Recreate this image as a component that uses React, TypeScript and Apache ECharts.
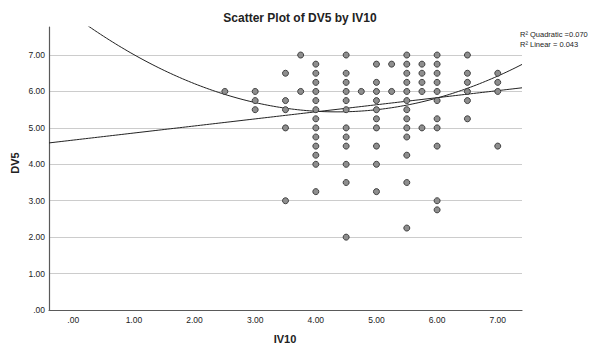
import React, { useEffect, useRef } from "react";
import * as echarts from "echarts";

const iv10: number[] = [
  2.5,
  3, 3, 3,
  3.5, 3.5, 3.5, 3.5, 3.5,
  3.75, 3.75,
  4, 4, 4, 4, 4, 4, 4, 4, 4, 4, 4, 4, 4,
  4.5, 4.5, 4.5, 4.5, 4.5, 4.5, 4.5, 4.5, 4.5, 4.5, 4.5, 4.5,
  4.75,
  5, 5, 5, 5, 5, 5, 5, 5, 5, 5,
  5.25, 5.25,
  5.5, 5.5, 5.5, 5.5, 5.5, 5.5, 5.5, 5.5, 5.5, 5.5, 5.5, 5.5, 5.5,
  5.75, 5.75, 5.75, 5.75, 5.75,
  6, 6, 6, 6, 6, 6, 6, 6, 6, 6, 6,
  6.5, 6.5, 6.5, 6.5, 6.5, 6.5,
  7, 7, 7, 7,
];
const dv5: number[] = [
  6,
  6, 5.75, 5.5,
  6.5, 5.75, 5.5, 5, 3,
  7, 6,
  6.75, 6.5, 6.25, 6, 5.75, 5.5, 5.25, 5, 4.75, 4.5, 4.25, 4, 3.25,
  7, 6.5, 6.25, 6, 5.75, 5.5, 5, 4.75, 4.5, 4, 3.5, 2,
  6,
  6.75, 6.25, 6, 5.75, 5.5, 5.25, 5, 4.5, 4, 3.25,
  6.75, 6,
  7, 6.75, 6.5, 6.25, 6, 5.75, 5.5, 5.25, 5, 4.75, 4.25, 3.5, 2.25,
  6.75, 6.5, 6.25, 6, 5,
  7, 6.75, 6.5, 6.25, 6, 5.75, 5.25, 5, 4.5, 3, 2.75,
  7, 6.5, 6.25, 6, 5.75, 5.25,
  6.5, 6.25, 6, 4.5,
];

// Fit coefficients (constant, linear, quadratic terms) as drawn in the picture
const linearFit: number[] = [4.665, 0.194];
const quadraticFit: number[] = [8.089, -1.218, 0.14];
const fitLabels: string[] = ["R² Quadratic =0.070", "R² Linear = 0.043"];

const xTickValues: number[] = [0, 1, 2, 3, 4, 5, 6, 7];
const yTickValues: number[] = [0, 1, 2, 3, 4, 5, 6, 7];

const X_MIN = -0.4;
const X_MAX = 7.4;

function fmt(v: number): string {
  return v === 0 ? ".00" : v.toFixed(2);
}

function isTick(v: number, ticks: number[]): number | null {
  for (const t of ticks) if (Math.abs(v - t) < 1e-6) return t;
  return null;
}

function curve(coef: number[]): number[][] {
  const pts: number[][] = [];
  const steps = 156;
  for (let i = 0; i <= steps; i++) {
    const x = X_MIN + ((X_MAX - X_MIN) * i) / steps;
    let y = 0;
    for (let k = 0; k < coef.length; k++) y += coef[k] * Math.pow(x, k);
    pts.push([x, y]);
  }
  return pts;
}

export default function App() {
  const ref = useRef<HTMLDivElement>(null);
  useEffect(() => {
    if (!ref.current) return;
    const chart = echarts.init(ref.current, null, { renderer: "svg" });
    const font = "'Liberation Sans', Arial, sans-serif";
    const points = iv10.map((x, i) => [x, dv5[i]]);
    chart.setOption({
      animation: false,
      textStyle: { fontFamily: font },
      grid: { left: 49, right: 69, top: 27, bottom: 37, containLabel: false },
      xAxis: {
        type: "value",
        min: X_MIN,
        max: X_MAX,
        interval: 0.2,
        axisLine: { show: true, onZero: false, lineStyle: { color: "#5a5a5a", width: 1.2 } },
        axisTick: { show: false },
        splitLine: { show: false },
        axisLabel: {
          margin: 5,
          fontSize: 8.5,
          color: "#222",
          fontFamily: font,
          formatter: (v: number) => {
            const t = isTick(v, xTickValues);
            return t === null ? "" : fmt(t);
          },
        },
      },
      yAxis: {
        type: "value",
        min: 0,
        max: 7.77,
        interval: 1,
        axisLine: { show: true, onZero: false, lineStyle: { color: "#5a5a5a", width: 1.2 } },
        axisTick: { show: false },
        splitLine: {
          show: true,
          showMaxLine: false,
          lineStyle: { color: "#cccccc", width: 1 },
        },
        axisLabel: {
          margin: 4,
          fontSize: 8.5,
          color: "#222",
          fontFamily: font,
          formatter: (v: number) => {
            const t = isTick(v, yTickValues);
            return t === null ? "" : fmt(t);
          },
        },
      },
      series: [
        {
          type: "line",
          data: curve(quadraticFit),
          showSymbol: false,
          symbol: "none",
          clip: true,
          lineStyle: { color: "#222", width: 1 },
          silent: true,
          z: 3,
        },
        {
          type: "line",
          data: curve(linearFit),
          showSymbol: false,
          symbol: "none",
          clip: true,
          lineStyle: { color: "#222", width: 1 },
          silent: true,
          z: 3,
        },
        {
          type: "scatter",
          data: points,
          symbol: "circle",
          symbolSize: 6,
          itemStyle: { color: "#8e8e8e", borderColor: "#333", borderWidth: 0.9, opacity: 1 },
          silent: true,
          z: 4,
        },
      ],
      graphic: [
        {
          type: "text",
          x: 300,
          y: 18,
          style: {
            text: "Scatter Plot of DV5 by IV10",
            fontSize: 12,
            fontWeight: "bold",
            fontFamily: font,
            fill: "#222",
            align: "center",
            verticalAlign: "middle",
          },
        },
        {
          type: "text",
          x: 15,
          y: 163,
          rotation: Math.PI / 2,
          style: {
            text: "DV5",
            fontSize: 11,
            fontWeight: "bold",
            fontFamily: font,
            fill: "#222",
            align: "center",
            verticalAlign: "middle",
          },
        },
        {
          type: "text",
          x: 285,
          y: 339,
          style: {
            text: "IV10",
            fontSize: 11,
            fontWeight: "bold",
            fontFamily: font,
            fill: "#222",
            align: "center",
            verticalAlign: "middle",
          },
        },
        {
          type: "text",
          x: 520,
          y: 34,
          style: {
            text: fitLabels[0],
            fontSize: 7.5,
            fontFamily: font,
            fill: "#222",
            align: "left",
            verticalAlign: "middle",
          },
        },
        {
          type: "text",
          x: 520,
          y: 44.5,
          style: {
            text: fitLabels[1],
            fontSize: 7.5,
            fontFamily: font,
            fill: "#222",
            align: "left",
            verticalAlign: "middle",
          },
        },
      ],
    });
    return () => chart.dispose();
  }, []);
  return (
    <div
      ref={ref}
      style={{ position: "fixed", left: 0, top: 0, width: 591, height: 347, background: "#fff" }}
    />
  );
}
